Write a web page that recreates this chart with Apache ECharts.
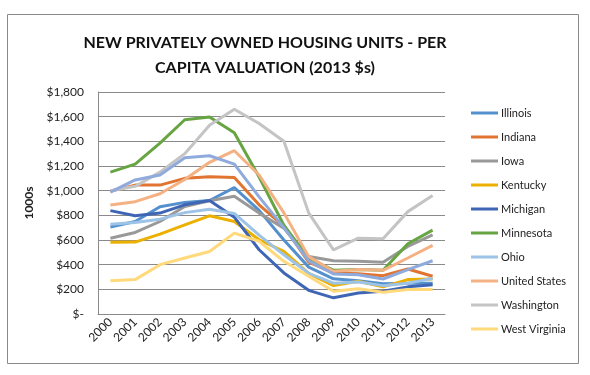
<!DOCTYPE html>
<html>
<head>
<meta charset="utf-8">
<script src="https://cdn.jsdelivr.net/npm/echarts@6/dist/echarts.min.js"></script>
<style>
  html, body { margin: 0; padding: 0; background: #fff; }
  #chart { width: 590px; height: 375px; }
</style>
</head>
<body>
<div id="chart"></div>
<script>
// values per capita, 1000s of 2013 dollars
const years = ['2000', '2001', '2002', '2003', '2004', '2005', '2006', '2007', '2008', '2009', '2010', '2011', '2012', '2013'];

const illinois     = [705, 750, 870, 905, 920, 1025, 840, 600, 380, 285, 270, 245, 250, 250];
const indiana      = [995, 1045, 1045, 1100, 1113, 1106, 885, 710, 420, 333, 327, 311, 365, 306];
const iowa         = [614, 661, 750, 871, 918, 955, 818, 696, 467, 432, 427, 419, 548, 642];
const kentucky     = [581, 583, 648, 723, 796, 750, 602, 507, 330, 230, 265, 220, 279, 284];
const michigan     = [838, 796, 818, 885, 920, 785, 521, 333, 192, 131, 171, 184, 220, 238];
const minnesota    = [1150, 1215, 1385, 1575, 1597, 1470, 1110, 720, 450, 355, 360, 355, 570, 680];
const ohio         = [727, 742, 769, 822, 850, 815, 640, 480, 330, 250, 260, 230, 250, 290];
const unitedStates = [884, 911, 975, 1090, 1230, 1324, 1127, 820, 465, 346, 360, 354, 454, 556];
const washington   = [1000, 1035, 1150, 1300, 1530, 1660, 1545, 1400, 820, 520, 615, 610, 830, 960];
const westVirginia = [270, 279, 400, 454, 507, 656, 590, 427, 306, 184, 204, 176, 198, 198];
// 11th series: drawn in the plot but its legend entry is cut off
const wisconsin    = [988, 1087, 1127, 1267, 1283, 1215, 950, 700, 430, 325, 319, 284, 360, 432];

const seriesList = [
    { name: 'Illinois', data: illinois, color: '#5590CE' },
    { name: 'Indiana', data: indiana, color: '#E07430' },
    { name: 'Iowa', data: iowa, color: '#999999' },
    { name: 'Kentucky', data: kentucky, color: '#EBB000' },
    { name: 'Michigan', data: michigan, color: '#3F66B5' },
    { name: 'Minnesota', data: minnesota, color: '#67A543' },
    { name: 'Ohio', data: ohio, color: '#9DC3E6' },
    { name: 'United States', data: unitedStates, color: '#F4B183' },
    { name: 'Washington', data: washington, color: '#C4C4C4' },
    { name: 'West Virginia', data: westVirginia, color: '#FFD97A' },
    { name: 'Wisconsin', data: wisconsin, color: '#8FAADC' }
];
const legendNames = seriesList.slice(0, 10).map(s => s.name);

const font = 'Lato, "Open Sans", sans-serif';
const chart = echarts.init(document.getElementById('chart'), null, { renderer: 'canvas' });

chart.setOption({
    animation: false,
    textStyle: { fontFamily: font },
    graphic: [{
        type: 'rect',
        shape: { x: 7.5, y: 14.5, width: 571, height: 349 },
        style: { fill: 'none', stroke: '#8a8a8a', lineWidth: 1 },
        silent: true
    }],
    title: {
        text: 'NEW PRIVATELY OWNED HOUSING UNITS - PER\nCAPITA VALUATION (2013 $s)',
        left: 260,
        top: 25,
        textAlign: 'center',
        textStyle: { fontFamily: font, fontSize: 16, fontWeight: 'bold', color: '#111', lineHeight: 25 }
    },
    legend: {
        data: legendNames,
        orient: 'vertical',
        left: 466,
        top: 101,
        icon: 'rect',
        itemWidth: 27,
        itemHeight: 3,
        itemGap: 10,
        textStyle: { fontFamily: font, fontSize: 11, color: '#222', lineHeight: 14, padding: [0, 0, 0, -2] }
    },
    grid: { left: 98, right: 145, top: 92, bottom: 61 },
    xAxis: {
        type: 'category',
        data: years,
        boundaryGap: true,
        axisLine: { lineStyle: { color: '#8a8a8a' } },
        axisTick: { show: false },
        axisLabel: { rotate: 45, fontSize: 12, color: '#222', margin: 6, fontFamily: font }
    },
    yAxis: {
        type: 'value',
        min: 0,
        max: 1800,
        interval: 200,
        name: '1000s',
        nameLocation: 'middle',
        nameRotate: 90,
        nameGap: 58,
        nameTextStyle: { fontSize: 12, fontWeight: 'bold', color: '#222', fontFamily: font },
        axisLine: { show: true, lineStyle: { color: '#8a8a8a' } },
        axisTick: { show: false },
        splitLine: { lineStyle: { color: '#8a8a8a' } },
        axisLabel: {
            fontSize: 12,
            color: '#222',
            margin: 14,
            fontFamily: font,
            formatter: v => v === 0 ? '$-' : '$' + v.toLocaleString('en-US')
        }
    },
    series: seriesList.map(s => ({
        name: s.name,
        type: 'line',
        data: s.data,
        symbol: 'none',
        color: s.color,
        lineStyle: { width: 3, color: s.color }
    }))
});
</script>
</body>
</html>
